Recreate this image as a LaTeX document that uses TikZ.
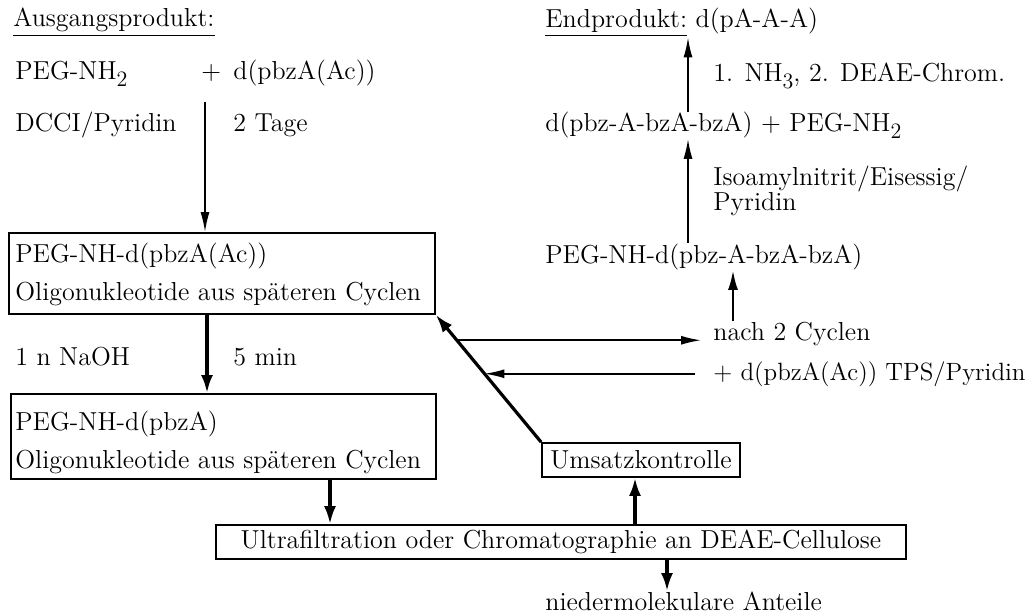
\documentclass[tikz,border=0pt]{standalone}
\usepackage{tikz}
\usetikzlibrary{calc,positioning,arrows.meta}
\newcommand{\tief}[1]{\raisebox{-0.55ex}{\fontsize{11pt}{13pt}\selectfont #1}}

\begin{document}
\begin{tikzpicture}[x=0.5pt,y=-0.5pt,
  every node/.style={inner sep=0pt,font=\fontsize{13pt}{15pt}\selectfont},
  txt/.style={anchor=base west},
  kasten/.style={draw,line width=0.9pt,inner sep=0pt},
  pfeil/.style={line width=0.8pt,-{Latex[length=10pt,width=4.5pt]}},
  mittel/.style={line width=1.3pt,-{Latex[length=10pt,width=5pt]}},
  dick/.style={line width=1.6pt,-{Latex[length=9pt,width=6pt]}}]

\useasboundingbox (0,0) rectangle (1027,615);

\node[txt] (ausgang) at (13,27) {\underline{Ausgangsprodukt:}};
\node[txt] (peg) at (15,80) {PEG-NH\tief{2}};
\node[txt] (plus) at (201,80) {+};
\node[txt] (nukleotid) at (233,80) {d(pbzA(Ac))};
\node[txt] (dcci) at (15,132) {DCCI/Pyridin};
\node[txt] (tage) at (233,132) {2 Tage};

\node[kasten,anchor=north west,minimum width=213pt,minimum height=40.5pt] (zyklus) at (8,232) {};
\node[txt] (zyklusa) at (15,262) {PEG-NH-d(pbzA(Ac))};
\node[txt] (zyklusb) at (15,300) {Oligonukleotide aus späteren Cyclen};

\node[txt] (naoh) at (15,365) {1 n NaOH};
\node[txt] (zeit) at (233,365) {5 min};

\node[kasten,anchor=north west,minimum width=212.5pt,minimum height=42.5pt] (spalt) at (10,393) {};
\node[txt] (spalta) at (15,430) {PEG-NH-d(pbzA)};
\node[txt] (spaltb) at (15,468) {Oligonukleotide aus späteren Cyclen};

\node[kasten,minimum width=345pt,minimum height=17pt] (filter) at (561,542) {Ultrafiltration oder Chromatographie an DEAE-Cellulose};
\node[kasten,minimum width=99pt,minimum height=17pt] (umsatz) at (641,460) {Umsatzkontrolle};
\node[txt] (rest) at (545,610) {niedermolekulare Anteile};

\node[txt] (end) at (545,28) {\underline{Endprodukt:} d(pA-A-A)};
\node[txt] (nh3) at (713,82) {1. NH\tief{3}, 2. DEAE-Chrom.};
\node[txt] (abspaltung) at (545,132) {d(pbz-A-bzA-bzA) + PEG-NH\tief{2}};
\node[txt] (iso) at (713,185) {Isoamylnitrit/Eisessig/};
\node[txt] (pyr) at (713,210) {Pyridin};
\node[txt] (traeger) at (545,263) {PEG-NH-d(pbz-A-bzA-bzA)};
\node[txt] (nach) at (713,340) {nach 2 Cyclen};
\node[txt,font=\fontsize{12.5pt}{15pt}\selectfont] (reagenz) at (713,380) {+ d(pbzA(Ac)) TPS/Pyridin};

\coordinate (start) at (205,102);
\coordinate (px) at (207,0);
\coordinate (fx) at (330,0);
\coordinate (ux) at (635,0);
\coordinate (rx) at (667,0);
\coordinate (zx) at (733,0);
\coordinate (ax) at (688,0);
\coordinate (d1) at ($(zyklus.south east)!0.2!(umsatz.north west)$);
\coordinate (d2) at ($(zyklus.south east)!0.5!(umsatz.north west)$);

\draw[pfeil] (start) -- (start |- zyklus.north);
\draw[dick] (zyklus.south -| px) -- (spalt.north -| px);
\draw[dick] (spalt.south -| fx) -- (filter.north -| fx);
\draw[dick] (filter.north -| ux) -- (umsatz.south -| ux);
\draw[dick] (filter.south -| rx) -- (rest.north -| rx);
\draw[dick] (umsatz.north west) -- (zyklus.south east);
\draw[pfeil,shorten >=6pt] (d1) -- (d1 -| nach.west);
\draw[pfeil,shorten <=9pt,shorten >=-2pt] (reagenz.west) -- (reagenz.west -| d2);
\draw[mittel] (nach.north -| zx) -- (traeger.south -| zx);
\draw[pfeil] (traeger.north -| ax) -- (abspaltung.south -| ax);
\draw[pfeil] (abspaltung.north -| ax) -- (end.south -| ax);
\end{tikzpicture}
\end{document}
